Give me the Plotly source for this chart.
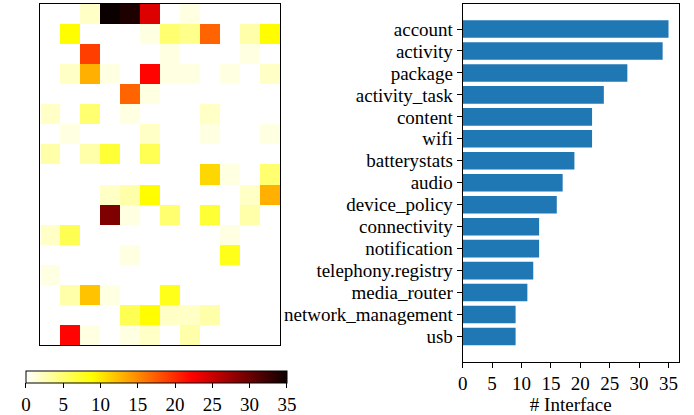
import plotly.graph_objects as go

# Heatmap values (17 rows x 12 columns), top row first
heat = [
    [0, 0, 2, 35, 34, 24, 0, 1, 0, 0, 0, 0],
    [0, 9, 0, 0, 0, 1, 5, 4, 17, 0, 3, 9],
    [0, 0, 19, 0, 0, 0, 1, 0, 0, 0, 1, 0],
    [0, 2, 13, 1, 0, 22, 1, 1, 0, 1, 0, 2],
    [0, 0, 0, 0, 17, 1, 0, 0, 0, 0, 0, 0],
    [2, 0, 5, 0, 1, 0, 0, 0, 2, 0, 0, 0],
    [0, 1, 0, 0, 0, 2, 0, 0, 1, 0, 0, 1],
    [3, 0, 3, 7, 0, 6, 0, 0, 0, 0, 0, 0],
    [0, 0, 0, 0, 0, 0, 0, 0, 11, 1, 0, 5],
    [0, 0, 0, 2, 3, 9, 0, 0, 0, 0, 2, 13],
    [0, 0, 0, 29, 1, 0, 5, 0, 7, 0, 3, 0],
    [2, 6, 0, 0, 0, 0, 0, 0, 0, 1, 0, 0],
    [0, 0, 0, 0, 1, 0, 0, 0, 0, 8, 0, 0],
    [1, 0, 0, 0, 0, 0, 0, 0, 0, 0, 0, 0],
    [0, 3, 12, 1, 0, 0, 8, 0, 0, 0, 0, 0],
    [0, 0, 0, 0, 6, 9, 2, 2, 3, 0, 0, 0],
    [0, 22, 1, 0, 1, 2, 0, 3, 0, 0, 0, 0],
]

categories = ["account", "activity", "package", "activity_task", "content", "wifi",
              "batterystats", "audio", "device_policy", "connectivity", "notification",
              "telephony.registry", "media_router", "network_management", "usb"]
counts = [35, 34, 28, 24, 22, 22, 19, 17, 16, 13, 13, 12, 11, 9, 9]

cb_ticks = [0, 5, 10, 15, 20, 25, 30, 35]
x_ticks = [0, 5, 10, 15, 20, 25, 30, 35]

hot_r = [[0.0, "rgb(255,255,255)"], [0.253968, "rgb(255,255,0)"],
         [0.634921, "rgb(255,0,0)"], [1.0, "rgb(11,0,0)"]]

W, H = 694, 415
FONT = "Liberation Serif, Times New Roman, serif"
FS = 19

fig = go.Figure()

fig.add_trace(go.Heatmap(
    z=heat, colorscale=hot_r, zmin=0, zmax=35, zsmooth=False,
    xaxis="x", yaxis="y",
    colorbar=dict(
        orientation="h", x=(26 + 287) / 2 / W - 4 / W, xanchor="center",
        y=1 - 372.3 / H, yanchor="top", len=263 / W, lenmode="fraction",
        thickness=12.4, thicknessmode="pixels", xpad=0, ypad=0,
        outlinecolor="black", outlinewidth=1,
        tickvals=cb_ticks, ticks="outside", ticklen=5, tickcolor="black",
        tickfont=dict(family=FONT, size=FS, color="black"),
    ),
    hoverinfo="skip",
))

fig.add_trace(go.Bar(
    x=counts, y=categories, orientation="h", width=0.8,
    marker=dict(color="#1f77b4", line=dict(width=0)),
    xaxis="x2", yaxis="y2",
))

ncols = len(heat[0])
nrows = len(heat)

fig.update_layout(
    width=W, height=H, margin=dict(l=0, r=0, t=0, b=0),
    paper_bgcolor="white", plot_bgcolor="white", showlegend=False,
    hovermode=False,
    font=dict(family=FONT, size=FS, color="black"),
    xaxis=dict(domain=[35.7 / W, 277 / W], range=[-0.5, ncols - 0.5],
               showticklabels=False, ticks="", showgrid=False, zeroline=False,
               showline=True, linecolor="black", linewidth=1, mirror=True, anchor="y"),
    yaxis=dict(domain=[1 - 347 / H, 1 - 4 / H], range=[nrows - 0.5, -0.5],
               showticklabels=False, ticks="", showgrid=False, zeroline=False,
               showline=True, linecolor="black", linewidth=1, mirror=True, anchor="x"),
    xaxis2=dict(domain=[461 / W, 678.7 / W], range=[0, 36.75], anchor="y2",
                tickvals=x_ticks, ticks="outside", ticklen=5, tickcolor="black",
                showgrid=False, zeroline=False, showline=True, linecolor="black",
                linewidth=1, mirror=True,
                title=dict(text="# Interface", font=dict(family=FONT, size=FS), standoff=2),
                tickfont=dict(family=FONT, size=FS)),
    yaxis2=dict(domain=[1 - 363.3 / H, 1 - 4 / H], anchor="x2",
                categoryorder="array", categoryarray=categories[::-1],
                tickmode="array", tickvals=categories, ticktext=categories,
                range=[-1.14, 15.14], ticks="outside", ticklen=5, tickcolor="black",
                showgrid=False, zeroline=False, showline=True, linecolor="black",
                linewidth=1, mirror=True, tickfont=dict(family=FONT, size=FS)),
)

fig.write_html("out.html", config={"displayModeBar": False},
               post_script="document.body.style.margin='0';")
